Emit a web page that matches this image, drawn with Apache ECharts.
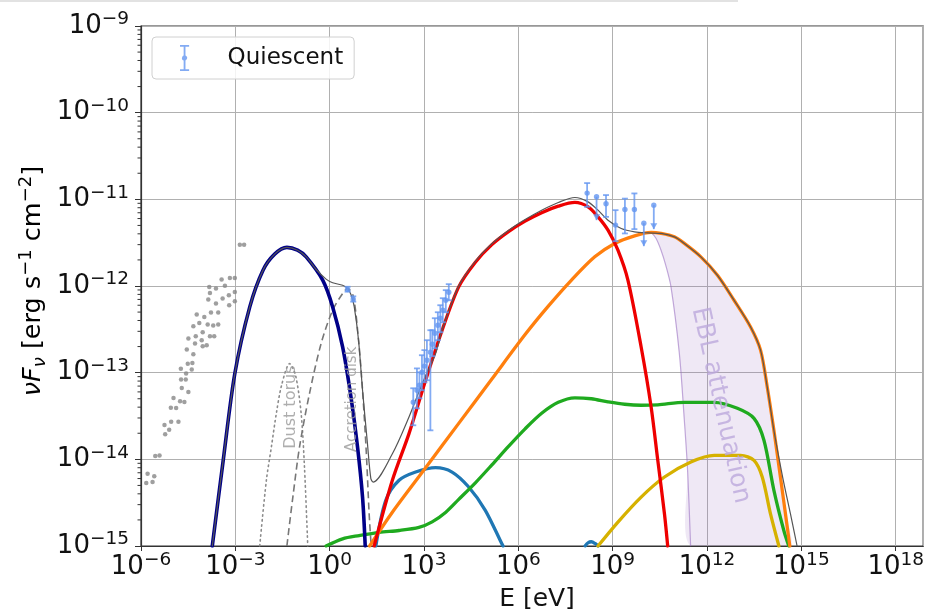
<!DOCTYPE html>
<html><head><meta charset="utf-8">
<script src="https://cdn.jsdelivr.net/npm/echarts@6/dist/echarts.min.js"></script>
<style>html,body{margin:0;padding:0;background:#fff}#chart{width:927px;height:612px}</style>
</head><body><div id="chart"></div>
<script>
const xMin = 1e-6, xMax = 7.5e18;
const yMin = 1e-15, yMax = 1e-9;
// flux decades and the 2..9 subdivisions marked by minor ticks
const fluxDecades = [1e-15, 1e-14, 1e-13, 1e-12, 1e-11, 1e-10];
const minorMantissas = [2, 3, 4, 5, 6, 7, 8, 9];

// archival radio-to-IR photometry [E (eV), nuFnu]
const archival = [[1.39e-3,3.0e-12],[1.9e-3,3.0e-12],[3.66e-4,1.19e-12],[6.7e-4,1.24e-12],[9.64e-4,1.24e-12],[1.48e-4,9.77e-13],[2.42e-4,9.35e-13],[4.66e-4,1.01e-12],[1.56e-4,8.32e-13],[9.64e-4,8.55e-13],[1.38e-4,6.98e-13],[3.94e-4,7.18e-13],[6.22e-4,7.83e-13],[2.42e-4,6.28e-13],[6.37e-4,6.0e-13],[9.64e-4,6.67e-13],[5.92e-5,4.69e-13],[1.03e-4,4.4e-13],[1.68e-4,4.94e-13],[2.86e-4,4.94e-13],[4.62e-5,3.44e-13],[7.14e-5,3.75e-13],[1.32e-4,3.59e-13],[1.98e-4,3.5e-13],[2.86e-4,3.59e-13],[3.21e-5,2.48e-13],[5.51e-5,2.63e-13],[9.16e-5,2.93e-13],[1.56e-4,2.63e-13],[2.13e-4,2.63e-13],[2.86e-5,1.85e-13],[4.62e-5,1.63e-13],[5.22e-5,2.17e-13],[8.51e-5,2.37e-13],[9.16e-5,2.02e-13],[1.23e-4,2.07e-13],[1.85e-5,1.11e-13],[3.07e-5,1.27e-13],[4.3e-5,1.29e-13],[4.11e-5,1.09e-13],[2.72e-5,9.77e-14],[1.88e-5,8.32e-14],[2.65e-5,8.32e-14],[1.98e-5,6.65e-14],[3.21e-5,5.98e-14],[1.08e-5,5.11e-14],[1.75e-5,4.68e-14],[2.4e-5,4.59e-14],[8.89e-6,3.95e-14],[1.31e-5,3.92e-14],[5.58e-6,2.49e-14],[9.1e-6,2.72e-14],[1.55e-5,2.72e-14],[5.87e-6,1.95e-14],[7.87e-6,2.2e-14],[2.84e-6,1.09e-14],[3.88e-6,1.11e-14],[1.62e-6,6.84e-15],[2.64e-6,6.37e-15],[1.47e-6,5.33e-15],[2.33e-6,5.47e-15]];

// quiescent state measurements [E, nuFnu, lower, upper, limitArrow]
const quiescentOptical = [[3.72,9.12e-13,8.6e-13,9.8e-13,0],[5.62,7.05e-13,6.6e-13,7.6e-13,0]];
const quiescentXray = [[455,4.55e-14,2.47e-14,6.61e-14,0],[596,6.27e-14,3.88e-14,1.12e-13,0],[715,7.16e-14,5.06e-14,1.01e-13,0],[859,1.01e-13,6.27e-14,1.59e-13,0],[1030,1.19e-13,7.75e-14,1.82e-13,0],[1236,1.39e-13,8.17e-14,2.37e-13,0],[1596,1.72e-13,2.16e-14,3.09e-13,0],[1846,2.13e-13,1.55e-13,3.09e-13,0],[2213,2.85e-13,1.91e-13,4.25e-13,0],[2754,3.53e-13,2.37e-13,4.98e-13,0],[3304,4.25e-13,2.93e-13,6.0e-13,0],[3963,5.26e-13,3.82e-13,7.23e-13,0],[4932,6.85e-13,4.98e-13,8.95e-13,0],[6138,8.48e-13,6.85e-13,1.05e-12,0]];
const quiescentGamma = [[1.54e8,1.18e-11,8.19e-12,1.54e-11,0],[3.07e8,1.07e-11,5.75e-12,1.07e-11,1],[6.14e8,8.91e-12,6.28e-12,1.12e-11,0],[1.23e9,5.04e-12,3.29e-12,7.5e-12,0],[2.45e9,7.64e-12,4.04e-12,1.02e-11,0],[4.9e9,7.64e-12,4.53e-12,1.17e-11,0],[9.79e9,5.31e-12,2.88e-12,5.31e-12,1],[2.03e10,8.57e-12,4.53e-12,8.57e-12,1]];

// model components [E, nuFnu]
const synchrotron = [[1.85e-4,1e-15],[4.11e-4,9.72e-15],[9.64e-4,9.77e-14],[2.88e-3,5.74e-13],[7.59e-3,1.52e-12],[1.78e-2,2.33e-12],[4.36e-2,2.79e-12],[9.5e-2,2.59e-12],[0.179,2.17e-12],[0.6,1.17e-12],[1.245,5.74e-13],[2.58,1.98e-13],[4.75,5.24e-14],[7.69,1.39e-14],[11.1,3.67e-15],[13.5,1e-15]];
const dustTorus = [[5.96e-3,1e-15],[9.7e-3,5.73e-15],[1.4e-2,1.39e-14],[2.01e-2,3.37e-14],[2.96e-2,7.16e-14],[5.31e-2,1.27e-13],[8.22e-2,9.33e-14],[0.124,3.37e-14],[0.158,8.15e-15],[0.201,1e-15]];
const accretionDisk = [[4.36e-2,1e-15],[6.75e-2,3.67e-15],[0.11,1.39e-14],[0.228,5.74e-14],[0.535,2.17e-13],[1.245,5.26e-13],[2.58,8.18e-13],[3.72,9.35e-13],[5.62,7.62e-13],[8.28,2.37e-13],[11.1,6.27e-14],[14.5,1.27e-14],[18.0,2.36e-15],[20.9,1e-15]];
const externalCompton = [[26.0,1e-15],[98.6,5.73e-15],[333,1.98e-14],[1125,8.17e-14],[3770,3.09e-13],[1.27e4,9.77e-13],[4.3e4,1.88e-12],[1.44e5,3.0e-12],[4.86e5,4.24e-12],[1.64e6,5.6e-12],[5.51e6,7.02e-12],[1.86e7,8.34e-12],[6.27e7,9.21e-12],[1.65e8,8.19e-12],[3.42e8,6.28e-12],[7.1e8,4.41e-12],[1.47e9,2.59e-12],[3.05e9,1.17e-12],[8.04e9,1.98e-13],[1.67e10,4.02e-14],[2.72e10,9.72e-15],[4.43e10,2.36e-15],[5.62e10,1e-15]];
const protonSynchrotron = [[18.7,1e-15],[98.6,2.45e-15],[1125,7.98e-15],[1.27e4,2.6e-14],[1.44e5,8.45e-14],[1.64e6,2.75e-13],[8.97e6,5.85e-13],[4.9e7,1.17e-12],[2.69e8,2.17e-12],[1.16e9,3.1e-12],[4.97e9,3.79e-12],[1.67e10,4.15e-12],[3.45e10,4.04e-12],[9.16e10,3.69e-12],[1.9e11,3.1e-12],[6.37e11,2.17e-12],[2.15e12,1.33e-12],[7.26e12,6.85e-13],[2.43e13,3.37e-13],[5.04e13,1.82e-13],[8.22e13,6.84e-14],[1.34e14,2.16e-14],[2.16e14,6.25e-15],[3.12e14,2.36e-15],[4.3e14,1e-15]];
const pairCascadeLow = [[29.4,1e-15],[61.0,3.37e-15],[161,5.73e-15],[542,7.13e-15],[2328,8.02e-15],[7798,7.13e-15],[2.64e4,4.79e-15],[8.89e4,2.58e-15],[2.99e5,1.06e-15],[3.26e5,1e-15]];
const pairCascadeHigh = [[1.33e8,1e-15],[1.65e8,1.09e-15],[2.1e8,1.12e-15],[2.75e8,1.07e-15],[3.42e8,1e-15]];
const pionCascade = [[0.769,1e-15],[2.58,1.21e-15],[8.71,1.32e-15],[37.4,1.44e-15],[161,1.51e-15],[690,1.64e-15],[1816,1.9e-15],[4831,2.44e-15],[1.27e4,3.45e-15],[4.3e4,5.36e-15],[1.44e5,8.63e-15],[4.86e5,1.41e-14],[1.64e6,2.25e-14],[5.51e6,3.4e-14],[1.86e7,4.55e-14],[6.27e7,5.13e-14],[2.1e8,5.0e-14],[7.1e8,4.61e-14],[2.4e9,4.32e-14],[8.04e9,4.21e-14],[2.72e10,4.26e-14],[1.9e11,4.55e-14],[1.69e12,4.55e-14],[9.23e12,3.88e-14],[3.12e13,2.97e-14],[6.46e13,1.66e-14],[1.34e14,4.39e-15],[2.77e14,1.51e-15],[3.99e14,1e-15]];
const muonSynchrotron = [[3.42e8,1e-15],[1.47e9,1.89e-15],[8.04e9,3.67e-15],[4.43e10,6.25e-15],[3.07e11,9.31e-15],[1.69e12,1.11e-14],[1.17e13,1.11e-14],[3.12e13,9.72e-15],[5.7e13,6.25e-15],[1.04e14,2.36e-15],[1.93e14,1e-15]];
const totalModel = [[1.85e-4,1e-15],[4.11e-4,9.72e-15],[9.64e-4,9.77e-14],[2.88e-3,5.74e-13],[7.59e-3,1.52e-12],[1.78e-2,2.33e-12],[4.36e-2,2.79e-12],[9.5e-2,2.59e-12],[0.179,2.17e-12],[0.372,1.55e-12],[0.769,1.2e-12],[1.245,1.09e-12],[2.58,1.02e-12],[3.71,9.35e-13],[4.86,7.83e-13],[6.05,5.74e-13],[8.28,2.37e-13],[11.1,6.27e-14],[15.9,1.52e-14],[20.4,5.98e-15],[24.2,5.47e-15],[98.6,1.16e-14],[333,3.08e-14],[877,7.48e-14],[2328,1.66e-13],[3770,3.12e-13],[1.27e4,1.0e-12],[4.3e4,1.93e-12],[1.44e5,3.08e-12],[4.86e5,4.38e-12],[1.64e6,5.85e-12],[5.51e6,7.5e-12],[1.86e7,9.2e-12],[6.27e7,1.05e-11],[1.65e8,9.35e-12],[3.42e8,7.5e-12],[7.1e8,5.75e-12],[1.87e9,4.61e-12],[4.97e9,4.22e-12],[1.31e10,4.1e-12],[3.45e10,4.04e-12],[9.16e10,3.69e-12],[1.9e11,3.1e-12],[6.37e11,2.17e-12],[2.15e12,1.33e-12],[7.26e12,6.85e-13],[2.43e13,3.37e-13],[5.04e13,1.82e-13],[8.22e13,6.84e-14],[1.34e14,2.16e-14],[2.54e14,6.25e-15],[4.49e14,2.36e-15],[7.31e14,1e-15]];
// EBL-absorbed edge of the total model
const eblAbsorbed = [[1.67e10,4.15e-12],[2.38e10,3.56e-12],[3.45e10,2.59e-12],[4.86e10,1.74e-12],[7.15e10,9.77e-13],[1.32e11,1.66e-13],[1.9e11,2.82e-14],[2.41e11,7.46e-15],[3.01e11,1e-15]];

// text annotations placed in data coordinates
const annotations = [
  {text: 'Dust torus', at: [5.7e-2, 4.0e-14], rotate: 90, size: 16, color: '#9a9a9a'},
  {text: 'Accretion disk', at: [5.05, 4.93e-14], rotate: 90, size: 15, color: '#9a9a9a'},
  {text: 'EBL attenuation', at: [2.7e12, 4.2e-14], rotate: -77.5, size: 25, color: '#bca8dc'}
];

const FONT = 'DejaVu Sans';
const pointColor = 'rgba(100,150,240,0.8)';

function powLabel(v) {
  const n = Math.round(Math.log10(v));
  return '{b|10}{s|' + (n < 0 ? '\u2212' + (-n) : String(n)) + '}';
}
const tickRich = {
  b: {fontSize: 26, fontFamily: FONT, color: '#111', lineHeight: 32},
  s: {fontSize: 18.5, fontFamily: FONT, color: '#111', lineHeight: 19, verticalAlign: 'top'}
};

function curve(name, data, color, width, extra) {
  return Object.assign({
    name, type: 'line', data, smooth: 0.3, showSymbol: false, symbol: 'none',
    clip: true, silent: true,
    lineStyle: {color, width, cap: 'round', join: 'round'}
  }, extra || {});
}

function errorBarItem(params, api) {
  const e = api.value(0), f = api.value(1), lo = api.value(2), hi = api.value(3), lim = api.value(4);
  const p = api.coord([e, f]), pl = api.coord([e, lo]), ph = api.coord([e, hi]);
  const st = {stroke: pointColor, lineWidth: 1.8};
  const kids = [
    {type: 'line', shape: {x1: p[0], y1: ph[1], x2: p[0], y2: pl[1]}, style: st}
  ];
  if (!lim) {
    kids.push({type: 'line', shape: {x1: p[0] - 3, y1: ph[1], x2: p[0] + 3, y2: ph[1]}, style: st});
    kids.push({type: 'line', shape: {x1: p[0] - 3, y1: pl[1], x2: p[0] + 3, y2: pl[1]}, style: st});
  } else {
    kids.push({type: 'polygon', shape: {points: [[p[0] - 3.5, pl[1] - 6], [p[0] + 3.5, pl[1] - 6], [p[0], pl[1]]]}, style: {fill: pointColor}});
  }
  kids.push({type: 'circle', shape: {cx: p[0], cy: p[1], r: 2.7}, style: {fill: pointColor}});
  return {type: 'group', children: kids};
}

const quiescent = quiescentOptical.concat(quiescentXray, quiescentGamma);
const minorFluxTicks = [];
fluxDecades.forEach(d => minorMantissas.forEach(m => minorFluxTicks.push(m * d)));

const chart = echarts.init(document.getElementById('chart'), null, {renderer: 'canvas'});
chart.setOption({
  animation: false,
  backgroundColor: '#fff',
  textStyle: {fontFamily: FONT},
  grid: {left: 141, right: 0, top: 26, bottom: 66, show: true, borderColor: '#333', borderWidth: 1.2, backgroundColor: 'transparent'},
  legend: {
    left: 152, top: 37, orient: 'horizontal',
    backgroundColor: 'rgba(255,255,255,0.85)', borderColor: '#d0d0d0', borderWidth: 1, borderRadius: 4,
    padding: [8, 11, 8, 28], itemWidth: 30, itemHeight: 26,
    textStyle: {fontSize: 23, fontFamily: FONT, color: '#111', padding: [0, 0, 0, 23]},
    data: [{name: 'Quiescent', icon: 'path://M0,0H8V1.6H4.8V9.2A2.4,2.4 0 0 1 4.8,13.6V21.2H8V22.8H0V21.2H3.2V13.6A2.4,2.4 0 0 1 3.2,9.2V1.6H0Z', itemStyle: {color: pointColor}}]
  },
  xAxis: {
    type: 'log', logBase: 10, min: xMin, max: xMax, interval: 3,
    axisLine: {show: true, lineStyle: {color: '#333', width: 1.2}},
    axisTick: {show: true, length: 5, lineStyle: {color: '#333'}},
    axisLabel: {margin: 5, formatter: powLabel, rich: tickRich, showMaxLabel: false},
    splitLine: {show: true, lineStyle: {color: '#b0b0b0', width: 1}}
  },
  yAxis: {
    type: 'log', logBase: 10, min: yMin, max: yMax, interval: 1,
    axisLine: {show: true, lineStyle: {color: '#333', width: 1.2}},
    axisTick: {show: true, length: 6, lineStyle: {color: '#333'}},
    axisLabel: {margin: 12, formatter: powLabel, rich: tickRich},
    splitLine: {show: true, lineStyle: {color: '#b0b0b0', width: 1}}
  },
  graphic: [
    {type: 'line', shape: {x1: 0, y1: 1, x2: 738, y2: 1}, style: {stroke: '#d8d8d8', lineWidth: 1.5}, silent: true},
    {type: 'text', x: 33, y: 281, rotation: Math.PI / 2, silent: true,
     style: {text: '{it|\u03bdF}{sub|\u03bd}{n| [erg s}{sup|\u22121}{n| cm}{sup|\u22122}{n|]}', align: 'center', verticalAlign: 'middle',
       rich: {
         n: {fontSize: 25.5, fontFamily: FONT, color: '#111', lineHeight: 32},
         it: {fontSize: 25.5, fontFamily: FONT, fontStyle: 'italic', color: '#111', lineHeight: 32},
         sub: {fontSize: 18, fontFamily: FONT, fontStyle: 'italic', color: '#111', lineHeight: 19, verticalAlign: 'bottom'},
         sup: {fontSize: 18, fontFamily: FONT, color: '#111', lineHeight: 19, verticalAlign: 'top'}
       }}},
    {type: 'text', x: 537, y: 599, silent: true,
     style: {text: 'E [eV]', fontSize: 25, fontFamily: FONT, fill: '#111', align: 'center', verticalAlign: 'middle'}}
  ],
  series: [
    {
      name: 'EBL band', type: 'custom', silent: true, clip: true, z: 1,
      data: [0],
      renderItem(params, api) {
        const upper = protonSynchrotron.filter(d => d[0] >= eblAbsorbed[0][0]);
        const pts = eblAbsorbed.map(d => api.coord(d)).concat(upper.slice().reverse().map(d => api.coord(d)));
        return {type: 'polygon', shape: {points: pts, smooth: 0.25}, style: {fill: 'rgba(148,103,189,0.15)'}};
      }
    },
    {
      name: 'minor ticks', type: 'custom', silent: true, clip: false, z: 6,
      data: minorFluxTicks,
      encode: {y: 0},
      renderItem(params, api) {
        const p = api.coord([xMin, api.value(0)]);
        return {type: 'line', shape: {x1: p[0] - 3.5, y1: p[1], x2: p[0], y2: p[1]}, style: {stroke: '#333', lineWidth: 1}};
      }
    },
    curve('EBL edge', eblAbsorbed, 'rgba(148,103,189,0.55)', 1.2, {z: 2}),
    {name: 'archival', type: 'scatter', data: archival, symbolSize: 4.5, itemStyle: {color: '#878787'}, silent: true, z: 2},
    curve('Dust torus', dustTorus, '#8c8c8c', 1.6, {lineStyle: {color: '#8c8c8c', width: 1.6, type: [1.5, 3.5], cap: 'round'}}),
    curve('Accretion disk', accretionDisk, '#777', 1.6, {lineStyle: {color: '#777', width: 1.6, type: [7, 4]}}),
    curve('pair cascade', pairCascadeLow, '#1f77b4', 3.3),
    curve('pair cascade hi', pairCascadeHigh, '#1f77b4', 3.3),
    curve('pion cascade', pionCascade, '#1faa1f', 3.3),
    curve('muon synchrotron', muonSynchrotron, '#d6b100', 3.3),
    curve('proton synchrotron', protonSynchrotron, '#ff7f0e', 3.3),
    curve('external Compton', externalCompton, '#ee0000', 3.3),
    curve('synchrotron', synchrotron, '#000088', 3.6),
    curve('total', totalModel, '#555', 1.2, {z: 4}),
    {
      name: 'Quiescent', type: 'custom', data: quiescent, renderItem: errorBarItem, z: 5, clip: true,
      encode: {x: 0, y: [1, 2, 3]}, itemStyle: {color: pointColor}
    },
    {
      name: 'labels', type: 'scatter', symbolSize: 0, silent: true, z: 3,
      data: annotations.map(a => ({value: a.at, label: {show: true, position: 'inside', formatter: a.text, rotate: a.rotate, fontSize: a.size, fontFamily: FONT, color: a.color}}))
    }
  ]
});
</script></body></html>
